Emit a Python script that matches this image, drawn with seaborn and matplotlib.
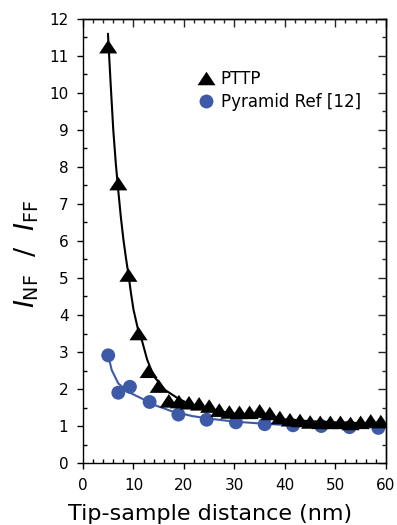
import matplotlib
matplotlib.use("Agg")
import matplotlib.pyplot as plt
import seaborn as sns
import numpy as np
import pandas as pd
from matplotlib.ticker import MultipleLocator
from matplotlib.lines import Line2D

# ---- data ----
pttp_x = [5, 7, 9, 11, 13, 15, 17, 19, 21, 23, 25, 27, 29, 31, 33, 35, 37, 39,
          41, 43, 45, 47, 49, 51, 53, 55, 57, 59]
pttp_y = [11.25, 7.55, 5.08, 3.5, 2.48, 2.08, 1.68, 1.66, 1.63, 1.6, 1.54, 1.43,
          1.38, 1.37, 1.37, 1.41, 1.34, 1.23, 1.17, 1.15, 1.11, 1.1, 1.1, 1.1,
          1.07, 1.1, 1.14, 1.12]

pyr_x = [5, 7, 9.3, 13.2, 18.9, 24.5, 30.3, 36, 41.6, 47.2, 52.8, 58.5]
pyr_y = [2.91, 1.9, 2.06, 1.65, 1.31, 1.17, 1.1, 1.05, 1.02, 1.0, 0.97, 0.95]

# fitted curves
pttp_fit_x = [4.95, 5.5, 6.0, 6.5, 7.0, 7.5, 8.0, 8.5, 9.0, 9.5, 10.0, 11.0,
              11.7, 12.7, 14.0, 16.3, 18.9, 21.6, 25, 30, 35, 40, 45, 50, 55, 59]
pttp_fit_y = [11.6, 10.2, 9.0, 8.1, 7.35, 6.65, 6.05, 5.55, 5.1, 4.6, 4.15, 3.55,
              3.3, 2.8, 2.35, 1.97, 1.74, 1.56, 1.45, 1.33, 1.25, 1.18, 1.13,
              1.1, 1.08, 1.07]

pyr_fit_x = [5.0, 5.7, 7.0, 9.0, 11.7, 14.3, 17.6, 21.6, 25, 30, 35, 40, 45, 50, 55, 59]
pyr_fit_y = [2.91, 2.51, 2.15, 1.92, 1.74, 1.56, 1.4, 1.27, 1.2, 1.12, 1.07, 1.03,
             1.01, 0.99, 0.97, 0.96]

series_labels = ["PTTP", "Pyramid Ref [12]"]
x_label = "Tip-sample distance (nm)"
y_label = r"$I_{\mathrm{NF}}$  /  $I_{\mathrm{FF}}$"

# ---- style ----
sns.set_style("ticks")
plt.rcParams["font.family"] = ["DejaVu Sans"]
plt.rcParams["mathtext.fontset"] = "dejavusans"
plt.rcParams["text.color"] = "black"
plt.rcParams["axes.labelcolor"] = "black"

BLUE = "#3d5aa9"
tri = [(0, 0.75), (-1, -0.75), (1, -0.75)]

fig = plt.figure(figsize=(3.97, 5.25), dpi=100)
ax = fig.add_axes([0.209, 0.118, 0.763, 0.846])

sns.scatterplot(x=pyr_x, y=pyr_y, ax=ax, color=BLUE, marker="o", s=100,
                edgecolor="none", zorder=2, legend=False)
sns.lineplot(x=pyr_fit_x, y=pyr_fit_y, ax=ax, color=BLUE, lw=1.5, zorder=3,
             sort=False, estimator=None)
sns.lineplot(x=pttp_fit_x, y=pttp_fit_y, ax=ax, color="black", lw=1.5, zorder=4,
             sort=False, estimator=None)
sns.scatterplot(x=pttp_x, y=pttp_y, ax=ax, color="black", marker=tri, s=170,
                edgecolor="none", zorder=5, legend=False)

ax.set_xlim(0, 60)
ax.set_ylim(0, 12)
ax.xaxis.set_major_locator(MultipleLocator(10))
ax.xaxis.set_minor_locator(MultipleLocator(2))
ax.yaxis.set_major_locator(MultipleLocator(1))
ax.yaxis.set_minor_locator(MultipleLocator(0.5))

for s in ax.spines.values():
    s.set_linewidth(1.0)
    s.set_color("black")

ax.tick_params(which="major", direction="out", length=4.5, width=1.0,
               labelsize=11, colors="black", pad=6)
ax.tick_params(which="minor", direction="in", length=3, width=1.0, colors="black")
ax.tick_params(axis="y", which="major", pad=6)

secx = ax.secondary_xaxis("top")
secx.xaxis.set_major_locator(MultipleLocator(10))
secx.xaxis.set_minor_locator(MultipleLocator(2))
secx.tick_params(which="major", direction="in", length=5.5, width=1.0, labeltop=False)
secx.tick_params(which="minor", direction="in", length=3, width=1.0)
secx.spines["top"].set_linewidth(1.0)

secy = ax.secondary_yaxis("right")
secy.yaxis.set_major_locator(MultipleLocator(1))
secy.yaxis.set_minor_locator(MultipleLocator(0.5))
secy.tick_params(which="major", direction="in", length=5.5, width=1.0, labelright=False)
secy.tick_params(which="minor", direction="in", length=3, width=1.0)
secy.spines["right"].set_linewidth(1.0)

ax.set_xlabel(x_label, fontsize=16)
ax.xaxis.set_label_coords(0.42, -0.093)
ax.set_ylabel(y_label, fontsize=19.5)
ax.yaxis.set_label_coords(-0.14, 0.47)

handles = [Line2D([], [], ls="none", marker=tri, ms=13, color="black", mec="none"),
           Line2D([], [], ls="none", marker="o", ms=10, color=BLUE, mec="none")]
ax.legend(handles, series_labels, frameon=False, fontsize=12,
          loc="upper left", bbox_to_anchor=(0.35, 0.90),
          handletextpad=0.3, labelspacing=0.3, handlelength=1.2,
          borderaxespad=0)

fig.savefig("out.png", dpi=100)
